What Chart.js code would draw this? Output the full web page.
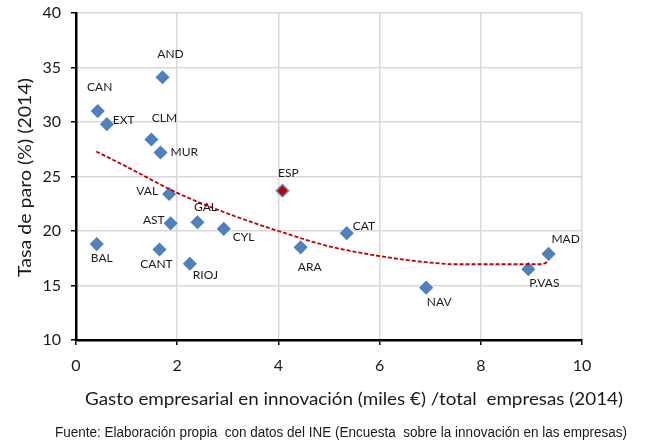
<!DOCTYPE html>
<html>
<head>
<meta charset="utf-8">
<script src="https://cdn.jsdelivr.net/npm/chart.js@4.4.1/dist/chart.umd.min.js"></script>
<style>
  html, body { margin: 0; padding: 0; background: #fff; }
  canvas { display: block; }
</style>
</head>
<body>
<canvas id="chart" width="647" height="441"></canvas>
<script>
// Regions (labels), business innovation spending per firm (x) and unemployment rate (y)
const regions = ['CAN', 'EXT', 'AND', 'CLM', 'MUR', 'VAL', 'AST', 'GAL', 'CYL',
  'BAL', 'CANT', 'RIOJ', 'ESP', 'ARA', 'CAT', 'NAV', 'P.VAS', 'MAD']
const gasto = [0.43, 0.61, 1.71, 1.49, 1.67, 1.84, 1.87, 2.40, 2.92,
  0.41, 1.65, 2.25, 4.08, 4.44, 5.35, 6.92, 8.94, 9.34]
const paro = [31.0, 29.8, 34.1, 28.4, 27.2, 23.4, 20.7, 20.8, 20.2,
  18.8, 18.3, 17.0, 23.7, 18.5, 19.8, 14.8, 16.5, 17.9]

// polynomial trend line
const trendX = [0.4, 1, 2, 3, 4, 5, 6, 7, 7.5, 8, 9, 9.2, 9.34]
const trendY = [27.3, 25.9, 23.5, 21.6, 20.0, 18.6, 17.7, 17.1, 16.95, 16.95, 16.95, 16.95, 17.2]

const xTicks = [0, 2, 4, 6, 8, 10]
const yTicks = [10, 15, 20, 25, 30, 35, 40]

const X_TITLE = 'Gasto empresarial en innovación (miles €) /total  empresas (2014)'
const Y_TITLE = 'Tasa de paro (%) (2014)'
const FOOTER = 'Fuente: Elaboración propia  con datos del INE (Encuesta  sobre la innovación en las empresas)'

// label placement next to each marker: [dx, dy, align]
const labelPos = {
  'CAN': [2, -24, 'center'], 'EXT': [6, -4, 'left'], 'AND': [8, -23, 'center'],
  'CLM': [13, -21, 'center'], 'MUR': [10, 0, 'left'], 'VAL': [-11, -3, 'right'],
  'AST': [-6, -3, 'right'], 'GAL': [8, -15, 'center'], 'CYL': [9, 8, 'left'],
  'BAL': [5, 14, 'center'], 'CANT': [-3, 15, 'center'], 'RIOJ': [3, 11, 'left'],
  'ESP': [6, -18, 'center'], 'ARA': [9, 20, 'center'], 'CAT': [6, -7, 'left'],
  'NAV': [13, 14, 'center'], 'P.VAS': [16, 14, 'center'], 'MAD': [17, -15, 'center']
}

const BLUE = '#4F81BD'
const RED = '#C00000'
const TEXT = '#1a1a1a'

// draws text squeezed/stretched to an exact width
const fitText = (ctx, text, x, y, width) => {
  let w = ctx.measureText(text).width
  ctx.save()
  ctx.translate(x, y)
  ctx.scale(width / w, 1)
  ctx.fillText(text, 0, 0)
  ctx.restore()
}

const pointLabels = {
  id: 'pointLabels',
  afterDatasetsDraw(chart) {
    let ctx = chart.ctx
    let meta = chart.getDatasetMeta(1)
    ctx.save()
    ctx.font = '12px Lato'
    ctx.fillStyle = TEXT
    ctx.textBaseline = 'middle'
    meta.data.forEach((pt, i) => {
      let name = regions[i]
      let [dx, dy, align] = labelPos[name]
      ctx.textAlign = align
      ctx.fillText(name, pt.x + dx, pt.y + dy)
    })
    ctx.restore()
  }
}

const outerText = {
  id: 'outerText',
  afterDraw(chart) {
    let ctx = chart.ctx
    ctx.save()
    ctx.fillStyle = TEXT
    ctx.textBaseline = 'middle'
    ctx.textAlign = 'left'
    ctx.font = '17px Lato'
    fitText(ctx, X_TITLE, 85, 400, 538)
    ctx.font = '14px "Liberation Sans Narrow", "Liberation Sans", sans-serif'
    fitText(ctx, FOOTER, 55, 433, 572)
    ctx.font = '17px Lato'
    ctx.translate(26, 277)
    ctx.rotate(-Math.PI / 2)
    fitText(ctx, Y_TITLE, 0, 0, 199)
    ctx.restore()
  }
}

const axisFont = { family: 'Lato', size: 16 }

new Chart(document.getElementById('chart').getContext('2d'), {
  type: 'scatter',
  data: {
    datasets: [
      {
        type: 'line',
        label: 'Tendencia',
        data: trendX.map((x, i) => ({ x: x, y: trendY[i] })),
        borderColor: RED,
        borderWidth: 1.8,
        borderDash: [4, 2],
        pointRadius: 0,
        fill: false,
        cubicInterpolationMode: 'monotone'
      },
      {
        label: 'Regiones',
        data: gasto.map((x, i) => ({ x: x, y: paro[i] })),
        pointStyle: 'rectRot',
        pointRadius: 6,
        pointBorderWidth: 1.5,
        pointBorderColor: BLUE,
        pointBackgroundColor: regions.map(r => r === 'ESP' ? RED : BLUE)
      }
    ]
  },
  options: {
    responsive: false,
    animation: false,
    layout: { padding: { top: 13, right: 65, bottom: 0, left: 0 } },
    plugins: {
      legend: { display: false },
      tooltip: { enabled: false }
    },
    scales: {
      x: {
        type: 'linear',
        min: 0,
        max: 10,
        afterBuildTicks: s => { s.ticks = xTicks.map(v => ({ value: v })) },
        afterFit: s => { s.height = 101; s.paddingLeft = 0; s.paddingRight = 0 },
        ticks: { color: TEXT, font: axisFont, padding: 11, maxRotation: 0 },
        grid: { color: '#D9D9D9', lineWidth: 1.5, tickColor: '#000', tickLength: 5, tickWidth: 1.5 },
        border: { color: '#000', width: 2.5 }
      },
      y: {
        min: 10,
        max: 40,
        afterBuildTicks: s => { s.ticks = yTicks.map(v => ({ value: v })) },
        afterFit: s => { s.width = 76; s.paddingTop = 0; s.paddingBottom = 0 },
        ticks: { color: TEXT, font: axisFont, padding: 10 },
        grid: { color: '#D9D9D9', lineWidth: 1.5, tickColor: '#000', tickLength: 5, tickWidth: 1.5 },
        border: { color: '#000', width: 2.5 }
      }
    }
  },
  plugins: [pointLabels, outerText]
})
</script>
</body>
</html>
